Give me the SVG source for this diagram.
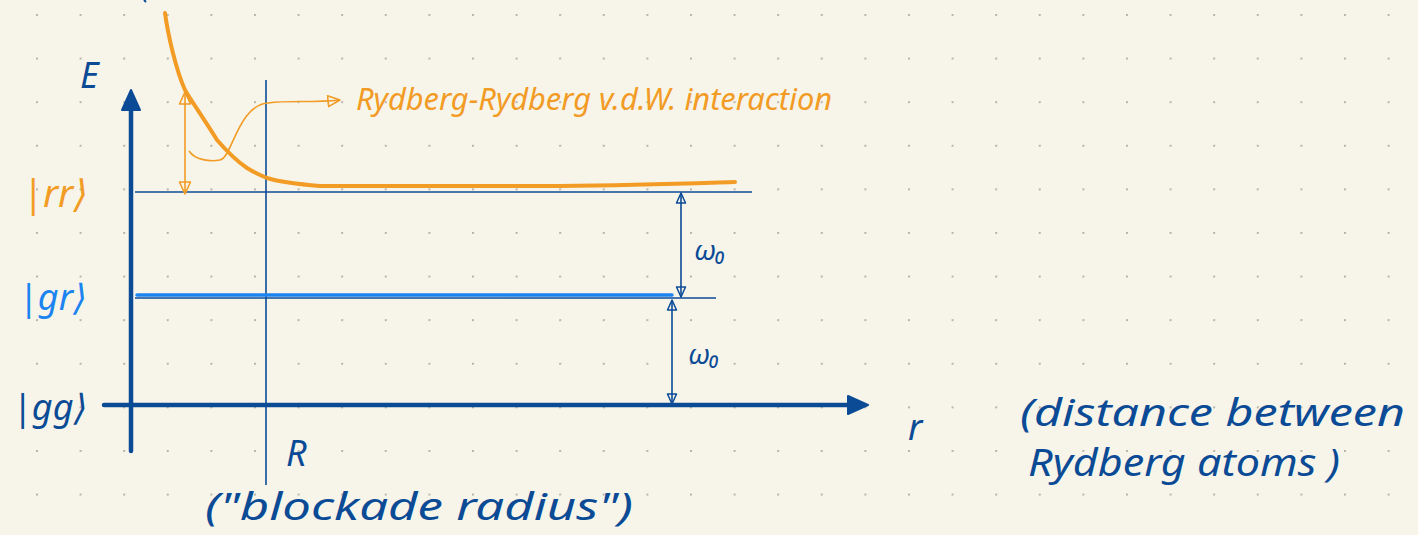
<svg xmlns="http://www.w3.org/2000/svg" width="1418" height="535" viewBox="0 0 1418 535">
<defs>
<pattern id="dots" x="36" y="14" width="43.6" height="43.6" patternUnits="userSpaceOnUse">
<circle cx="0.8" cy="0.8" r="1.3" fill="#b4b2ab"/>
</pattern>
<marker id="openB" viewBox="0 0 12 12" refX="11" refY="6" markerWidth="12" markerHeight="12" markerUnits="userSpaceOnUse" orient="auto-start-reverse">
<path d="M1,1.5 L11,6 L1,10.5 Z" fill="none" stroke="#0b4b96" stroke-width="1.5" stroke-linejoin="round"/>
</marker>
<marker id="openO" viewBox="0 0 14 14" refX="13" refY="7" markerWidth="14" markerHeight="14" markerUnits="userSpaceOnUse" orient="auto-start-reverse">
<path d="M1,1.5 L13,7 L1,12.5 Z" fill="none" stroke="#f29b25" stroke-width="1.6" stroke-linejoin="round"/>
</marker>
<marker id="fillB" viewBox="0 0 24 24" refX="4" refY="12" markerWidth="24" markerHeight="24" markerUnits="userSpaceOnUse" orient="auto">
<path d="M2,3 L22,12 L2,21 Z" fill="#0b4b96" stroke="#0b4b96" stroke-width="2" stroke-linejoin="round"/>
</marker>
</defs>
<style>
.hand{font-family:"Noto Sans","DejaVu Sans",sans-serif;font-style:italic}
.db{fill:#0b4b96}
.or{fill:#f29b25}
.lb{fill:#1c84f0}
.thin{stroke:#0b4b96;stroke-width:1.6;fill:none}
.axis{stroke:#0b4b96;stroke-width:4.5;fill:none;stroke-linecap:round}
</style>
<rect width="1418" height="535" fill="#f7f5ea"/>
<rect width="1418" height="535" fill="url(#dots)"/>
<path d="M144,0 L146,2" stroke="#0b4b96" stroke-width="2" fill="none"/>

<g id="axes">
<line class="axis" x1="131" y1="451" x2="131" y2="108" marker-end="url(#fillB)"/>
<line class="axis" x1="104" y1="405" x2="850" y2="405" marker-end="url(#fillB)"/>
<line class="thin" x1="266" y1="80" x2="266" y2="485"/>
</g>

<g id="level-rr">
<line class="thin" x1="135" y1="192" x2="752" y2="192"/>
<text class="hand or" x="22" y="207" font-size="38">|rr⟩</text>
</g>
<g id="level-gr">
<line class="thin" x1="135" y1="298" x2="716" y2="298"/>
<line x1="137" y1="295" x2="672" y2="295" stroke="#1c84f0" stroke-width="3.5" stroke-linecap="round"/>
<text class="hand lb" x="18" y="310" font-size="36">|gr⟩</text>
</g>
<g id="level-gg">
<text class="hand db" x="12" y="420" font-size="36">|gg⟩</text>
</g>

<g id="potential">
<path d="M165,13 C168,35 176,70 185,90 C192,102 206,122 217,140 C224,148 235,160 247,168 C255,173 262,176 267,178 C280,182 295,184 320,186 L560,186 C640,185 700,183 735,182" fill="none" stroke="#f29b25" stroke-width="4" stroke-linecap="round" stroke-linejoin="round"/>
</g>

<g id="connectors">
<line x1="185" y1="92" x2="185" y2="194" stroke="#f29b25" stroke-width="1.6" marker-start="url(#openO)" marker-end="url(#openO)"/>
<path d="M189,151 C195,160 210,162 220,160 C232,158 238,105 268,103 C290,100 310,103 340,100" fill="none" stroke="#f29b25" stroke-width="1.6" marker-end="url(#openO)"/>
<line class="thin" x1="681" y1="193" x2="681" y2="297" marker-start="url(#openB)" marker-end="url(#openB)"/>
<line class="thin" x1="672" y1="300" x2="672" y2="404" marker-start="url(#openB)" marker-end="url(#openB)"/>
</g>

<g id="labels">
<text class="hand db" x="80" y="88" font-size="36">E</text>
<text class="hand or" x="356" y="110" font-size="30" textLength="476" lengthAdjust="spacingAndGlyphs">Rydberg-Rydberg v.d.W. interaction</text>
<text class="hand db" x="694" y="260" font-size="28">ω₀</text>
<text class="hand db" x="688" y="364" font-size="28">ω₀</text>
<text class="hand db" x="908" y="440" font-size="36">r</text>
<text class="hand db" x="286" y="466" font-size="36">R</text>
<text class="hand db" x="205" y="520" font-size="38" textLength="428" lengthAdjust="spacingAndGlyphs">("blockade radius")</text>
<text class="hand db" x="1020" y="426" font-size="38" textLength="385" lengthAdjust="spacingAndGlyphs">(distance between</text>
<text class="hand db" x="1028" y="476" font-size="38" textLength="312" lengthAdjust="spacingAndGlyphs">Rydberg atoms )</text>
</g>
</svg>
